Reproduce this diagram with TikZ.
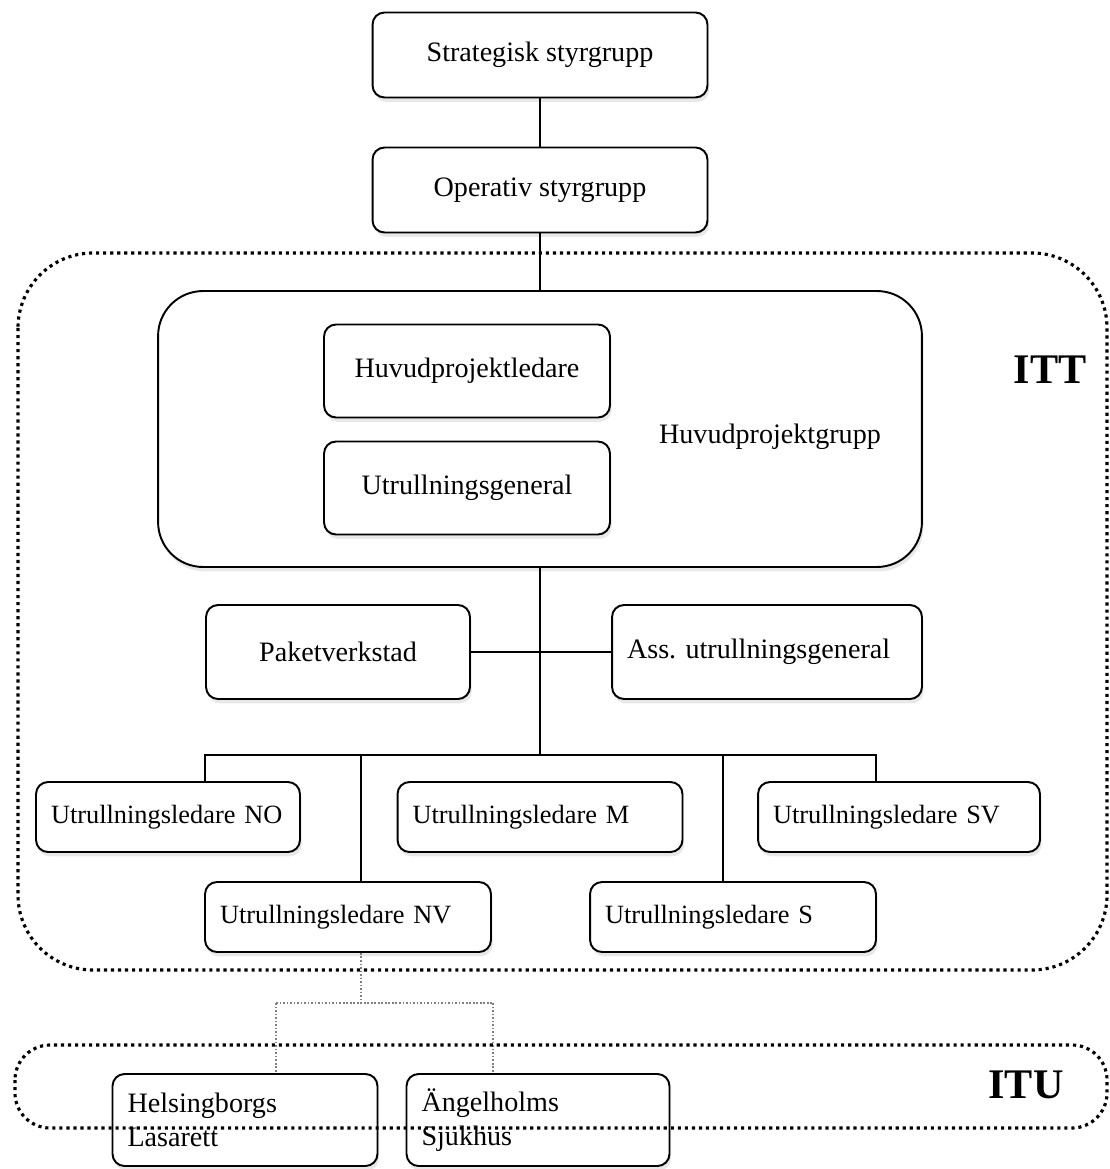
\documentclass[tikz,border=0pt]{standalone}
\usepackage{fontspec}
\setmainfont{Liberation Serif}
\usetikzlibrary{shadows}

\begin{document}
\begin{tikzpicture}[x=0.02cm, y=-0.02cm,
    box/.style={draw, line width=1.1pt, rounded corners=0.24cm, fill=white,
        drop shadow={opacity=0.18, shadow xshift=1pt, shadow yshift=-2.5pt},
        font=\fontsize{16}{19}\selectfont, inner sep=0pt},
    lbox/.style={box, align=left, text width=#1, inner xsep=0.3cm},
    wire/.style={line width=1.1pt},
    feed/.style={gray, line width=0.9pt, dash pattern=on 1pt off 1pt},
    zone/.style={line width=1.8pt, dash pattern=on 1.8pt off 2.2pt},
    tag/.style={font=\fontsize{24}{28}\selectfont\bfseries}]
    \useasboundingbox (0,0) rectangle (1109,1169);
    % Steering groups
    \node (strat) [box, minimum width=6.7cm, minimum height=1.7cm] at (540,55) {Strategisk styrgrupp};
    \node (oper) [box, minimum width=6.7cm, minimum height=1.7cm] at (540,190) {Operativ styrgrupp};
    % Main project group
    \node (hpg) [box, rounded corners=0.9cm, minimum width=15.28cm, minimum height=5.52cm] at (540,429) {};
    \node (hpgtext) [font=\fontsize{16}{19}\selectfont] at (770,437) {Huvudprojektgrupp};
    \node (hpl) [box, minimum width=5.72cm, minimum height=1.86cm] at (467,371) {Huvudprojektledare};
    \node (ug) [box, minimum width=5.72cm, minimum height=1.86cm] at (467,488) {Utrullningsgeneral};
    % Support
    \node (paket) [box, minimum width=5.28cm, minimum height=1.88cm] at (338,652) {Paketverkstad};
    \node (ass) [lbox=5.6cm, minimum height=1.88cm] at (767,652) {Ass.\ utrullningsgeneral};
    % Rollout leaders
    \foreach \id/\x/\y/\w/\reg in {no/168/817/4.68cm/NO, m/540/817/5.1cm/M, sv/899/817/5.04cm/SV,
                                   nv/348/917/5.12cm/NV, s/733/917/5.12cm/S}{
        \node (\id) [lbox=\w, minimum height=1.4cm, font=\fontsize{15}{18}\selectfont] at (\x,\y) {Utrullningsledare \reg};
    }
    % Hospitals
    \node (hels) [lbox=4.7cm, minimum height=1.84cm] at (245,1120) {Helsingborgs\\Lasarett};
    \node (ang) [lbox=4.66cm, minimum height=1.84cm] at (538,1120) {Ängelholms\\Sjukhus};

    % Links
    \coordinate (busw) at (205,755);
    \coordinate (buse) at (876,755);
    \coordinate (tapnv) at (361,755);
    \coordinate (taps) at (723,755);
    \draw [wire] (strat) -- (oper);
    \draw [wire] (oper) -- (hpg);
    \draw [wire] (paket) -- (ass);
    \draw [wire] (hpg.south) -- (hpg.south |- busw);
    \draw [wire] (no.north -| busw) -- (busw) -- (buse) -- (sv.north -| buse);
    \draw [wire] (tapnv) -- (nv.north -| tapnv);
    \draw [wire] (taps) -- (s.north -| taps);
    \coordinate (fork) at (361,1003);
    \coordinate (forkw) at (276,1003);
    \coordinate (forke) at (493,1003);
    \draw [feed]
        (nv.south -| fork) -- (fork)
        (forkw) -- (forke)
        (forkw) -- (hels.north -| forkw)
        (forke) -- (ang.north -| forke);

    % Zones
    \draw [zone, rounded corners=1.5cm] (18,253) rectangle (1107,970);
    \draw [zone, rounded corners=0.7cm] (15,1045) rectangle (1107,1128);
    \node (itt) [tag] at (1050,370) {ITT};
    \node (itu) [tag] at (1026,1085) {ITU};
\end{tikzpicture}
\end{document}
